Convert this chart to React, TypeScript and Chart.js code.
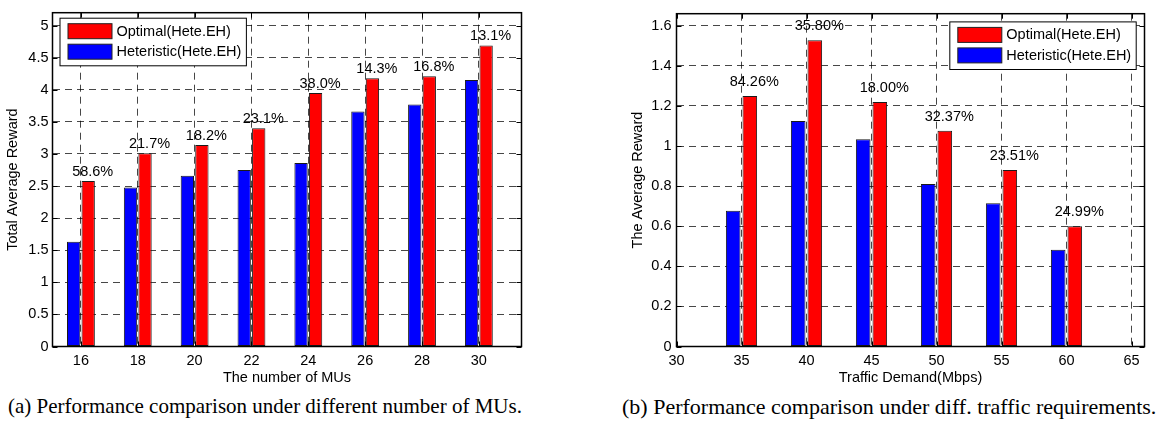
import React, { useEffect, useRef } from 'react';
import { Chart, registerables } from 'chart.js';

Chart.register(...registerables);

const FONT = '"Liberation Sans", Arial, Helvetica, sans-serif';
const SERIF = '"Liberation Serif", "Times New Roman", Times, serif';
const FS = 14.5;

// ---------- (a) data ----------
const muCounts = [16, 18, 20, 22, 24, 26, 28, 30];
const muHeuristic = [1.63, 2.475, 2.66, 2.75, 2.86, 3.66, 3.77, 4.15];
const muOptimal = [2.58, 3.01, 3.14, 3.4, 3.95, 4.18, 4.21, 4.69];
const muGain = ['58.6%', '21.7%', '18.2%', '23.1%', '38.0%', '14.3%', '16.8%', '13.1%'];
const muXTicks = [16, 18, 20, 22, 24, 26, 28, 30];
const muYTicks = [0, 0.5, 1, 1.5, 2, 2.5, 3, 3.5, 4, 4.5, 5];

// ---------- (b) data ----------
const demand = [35, 40, 45, 50, 55, 60];
const demandHeuristic = [0.677, 1.125, 1.034, 0.811, 0.714, 0.483];
const demandOptimal = [1.25, 1.528, 1.22, 1.076, 0.88, 0.6];
const demandGain = ['84.26%', '35.80%', '18.00%', '32.37%', '23.51%', '24.99%'];
const demandXTicks = [30, 35, 40, 45, 50, 55, 60, 65];
const demandYTicks = [0, 0.2, 0.4, 0.6, 0.8, 1, 1.2, 1.4, 1.6];

const seriesNames = ['Heteristic(Hete.EH)', 'Optimal(Hete.EH)'];
const seriesColors = ['#0000ff', '#ff0000'];

type Cfg = {
  xs: number[];
  heur: number[];
  opt: number[];
  gains: string[];
  xTicks: number[];
  yTicks: number[];
  xMin: number;
  xMax: number;
  yMax: number;
  xTitle: string;
  yTitle: string;
  yAxisWidth: number;
  xAxisHeight: number;
  padRight: number;
  yTitlePad: number;
  yTickPad: number;
  xTickPad: number;
  xTitlePad: number;
  barPct: number;
  labelDx: number;
  labelDy: number;
  legendSide: 'left' | 'right';
  legendDx: number;
  legendDy: number;
};

function makeChart(canvas: HTMLCanvasElement, c: Cfg) {
  const fmt = (v: number) => String(Number(Number(v).toFixed(2)));

  const overlay = {
    id: 'matlabOverlay',
    afterDatasetsDraw(chart: any) {
      const ctx = chart.ctx;
      const meta = chart.getDatasetMeta(1);
      ctx.save();
      ctx.font = `${FS}px ${FONT}`;
      ctx.fillStyle = '#000';
      ctx.textAlign = 'center';
      ctx.textBaseline = 'alphabetic';
      meta.data.forEach((el: any, i: number) => {
        ctx.fillText(c.gains[i], el.x + c.labelDx, el.y - c.labelDy);
      });
      ctx.restore();
    },
    afterDraw(chart: any) {
      const ctx = chart.ctx;
      const a = chart.chartArea;
      const xs = chart.scales.x;
      const ys = chart.scales.y;
      ctx.save();
      // inward ticks
      ctx.strokeStyle = '#000';
      ctx.lineWidth = 1;
      ctx.setLineDash([]);
      const tl = 5;
      c.xTicks.forEach((v) => {
        const px = Math.round(xs.getPixelForValue(v)) + 0.5;
        ctx.beginPath();
        ctx.moveTo(px, a.bottom);
        ctx.lineTo(px, a.bottom - tl);
        ctx.moveTo(px, a.top);
        ctx.lineTo(px, a.top + tl);
        ctx.stroke();
      });
      c.yTicks.forEach((v) => {
        const py = Math.round(ys.getPixelForValue(v)) + 0.5;
        ctx.beginPath();
        ctx.moveTo(a.left, py);
        ctx.lineTo(a.left + tl, py);
        ctx.moveTo(a.right, py);
        ctx.lineTo(a.right - tl, py);
        ctx.stroke();
      });
      // axes box
      ctx.lineWidth = 1.5;
      ctx.strokeRect(a.left, a.top, a.right - a.left, a.bottom - a.top);

      // legend
      ctx.font = `${FS}px ${FONT}`;
      const items = chart.data.datasets
        .map((d: any) => ({ label: d.label, color: d.backgroundColor }))
        .reverse();
      const tw = Math.max(...items.map((it: any) => ctx.measureText(it.label).width));
      const sw = 44, sh = 15, padL = 8, gap = 4.5, padR = 5;
      const w = padL + sw + gap + tw + padR;
      const h = 47.6;
      const bx = c.legendSide === 'left' ? a.left + c.legendDx : a.right - c.legendDx - w;
      const by = a.top + c.legendDy;
      ctx.fillStyle = '#fff';
      ctx.fillRect(bx, by, w, h);
      ctx.lineWidth = 1;
      ctx.strokeStyle = '#000';
      ctx.strokeRect(bx, by, w, h);
      const rowTops = [5.5, 26];
      items.forEach((it: any, i: number) => {
        const sy = by + rowTops[i];
        ctx.fillStyle = it.color;
        ctx.fillRect(bx + padL, sy, sw, sh);
        ctx.strokeStyle = '#222';
        ctx.strokeRect(bx + padL, sy, sw, sh);
        ctx.fillStyle = '#000';
        ctx.textAlign = 'left';
        ctx.textBaseline = 'middle';
        ctx.fillText(it.label, bx + padL + sw + gap, sy + sh / 2 + 0.5);
      });
      ctx.restore();
    },
  };

  const gridCommon = {
    color: 'rgba(0,0,0,0.72)',
    lineWidth: 1,
    drawTicks: false,
    offset: false,
  };

  return new Chart(canvas, {
    type: 'bar',
    data: {
      datasets: [
        {
          label: seriesNames[0],
          data: c.xs.map((x, i) => ({ x, y: c.heur[i] })),
          backgroundColor: seriesColors[0],
          borderColor: '#1a1a1a',
          borderWidth: 1,
          borderSkipped: false,
          barPercentage: c.barPct,
          categoryPercentage: 0.511,
        },
        {
          label: seriesNames[1],
          data: c.xs.map((x, i) => ({ x, y: c.opt[i] })),
          backgroundColor: seriesColors[1],
          borderColor: '#1a1a1a',
          borderWidth: 1,
          borderSkipped: false,
          barPercentage: c.barPct,
          categoryPercentage: 0.511,
        },
      ],
    },
    options: {
      responsive: false,
      animation: false,
      layout: { padding: { left: 0, top: 8.5, right: c.padRight, bottom: 0 } },
      plugins: {
        legend: { display: false },
        tooltip: { enabled: false },
      },
      scales: {
        x: {
          type: 'linear',
          min: c.xMin,
          max: c.xMax,
          bounds: 'data',
          offset: false,
          grid: gridCommon,
          border: { display: false, dash: [7, 5] },
          afterBuildTicks: (s: any) => {
            s.ticks = c.xTicks.map((v) => ({ value: v }));
          },
          afterFit: (s: any) => {
            s.height = c.xAxisHeight;
          },
          ticks: {
            color: '#000',
            font: { family: FONT, size: FS },
            padding: c.xTickPad,
            maxRotation: 0,
            autoSkip: false,
            callback: (v: any) => fmt(v),
          },
          title: {
            display: true,
            text: c.xTitle,
            color: '#000',
            font: { family: FONT, size: FS },
            padding: { top: 0, bottom: c.xTitlePad },
          },
        },
        y: {
          type: 'linear',
          min: 0,
          max: c.yMax,
          bounds: 'data',
          grid: gridCommon,
          border: { display: false, dash: [7, 5] },
          afterBuildTicks: (s: any) => {
            s.ticks = c.yTicks.map((v) => ({ value: v }));
          },
          afterFit: (s: any) => {
            s.width = c.yAxisWidth;
          },
          ticks: {
            color: '#000',
            font: { family: FONT, size: FS },
            padding: c.yTickPad,
            autoSkip: false,
            callback: (v: any) => fmt(v),
          },
          title: {
            display: true,
            text: c.yTitle,
            color: '#000',
            font: { family: FONT, size: FS },
            padding: { top: c.yTitlePad, bottom: 0 },
          },
        },
      },
    } as any,
    plugins: [overlay],
  });
}

export default function App() {
  const leftRef = useRef<HTMLCanvasElement>(null);
  const rightRef = useRef<HTMLCanvasElement>(null);

  useEffect(() => {
    const a = makeChart(leftRef.current!, {
      xs: muCounts,
      heur: muHeuristic,
      opt: muOptimal,
      gains: muGain,
      xTicks: muXTicks,
      yTicks: muYTicks,
      xMin: 15,
      xMax: 31.5,
      yMax: 5.2,
      xTitle: 'The number of MUs',
      yTitle: 'Total Average Reward',
      yAxisWidth: 52.5,
      xAxisHeight: 43.5,
      padRight: 18.5,
      yTitlePad: 4.4,
      yTickPad: 4,
      xTickPad: 5.4,
      xTitlePad: 3.0,
      barPct: 0.917,
      labelDx: 4.5,
      labelDy: 5,
      legendSide: 'left',
      legendDx: 7.5,
      legendDy: 5.5,
    });
    const b = makeChart(rightRef.current!, {
      xs: demand,
      heur: demandHeuristic,
      opt: demandOptimal,
      gains: demandGain,
      xTicks: demandXTicks,
      yTicks: demandYTicks,
      xMin: 30,
      xMax: 66,
      yMax: 1.66,
      xTitle: 'Traffic Demand(Mbps)',
      yTitle: 'The Average Reward',
      yAxisWidth: 96.5,
      xAxisHeight: 43.5,
      padRight: 20.5,
      yTitlePad: 49.4,
      yTickPad: 5,
      xTickPad: 5.9,
      xTitlePad: 3.3,
      barPct: 0.88,
      labelDx: 4.5,
      labelDy: 10,
      legendSide: 'right',
      legendDx: 8.3,
      legendDy: 8.2,
    });
    return () => {
      a.destroy();
      b.destroy();
    };
  }, []);

  const caption: React.CSSProperties = {
    position: 'absolute',
    top: 396,
    fontFamily: SERIF,
    lineHeight: '21px',
    color: '#000',
    whiteSpace: 'nowrap',
  };

  return (
    <div
      style={{
        position: 'fixed',
        left: 0,
        top: 0,
        width: 1165,
        height: 432,
        background: '#fff',
        overflow: 'hidden',
      }}
    >
      <canvas
        ref={leftRef}
        width={540}
        height={390}
        style={{ position: 'absolute', left: 0, top: 0, width: 540, height: 390 }}
      />
      <canvas
        ref={rightRef}
        width={585}
        height={390}
        style={{ position: 'absolute', left: 580, top: 0, width: 585, height: 390 }}
      />
      <div style={{ ...caption, left: 8, fontSize: 21 }}>
        (a) Performance comparison under different number of MUs.
      </div>
      <div style={{ ...caption, left: 622, fontSize: 22 }}>
        (b) Performance comparison under diff. traffic requirements.
      </div>
    </div>
  );
}
